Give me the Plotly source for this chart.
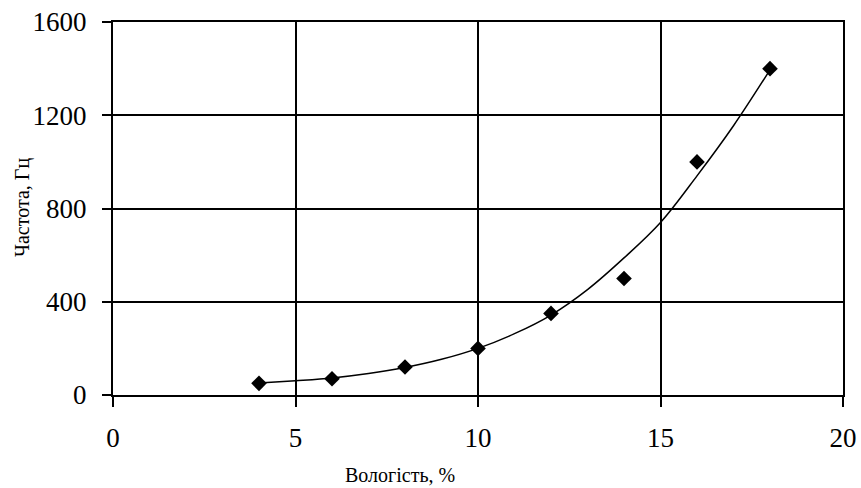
import plotly.graph_objects as go

# Measured data points
moisture = [4, 6, 8, 10, 12, 14, 16, 18]
frequency = [50, 70, 120, 200, 350, 500, 1000, 1400]

# Trend curve
trend_x = [4, 5, 6, 7, 8, 9, 10, 11, 12, 13, 14, 15, 16, 17, 18]
trend_y = [51, 61, 73, 92, 118, 153, 200, 263, 343, 452, 588, 740, 940, 1155, 1395]

x_ticks = [0, 5, 10, 15, 20]
y_ticks = [0, 400, 800, 1200, 1600]

x_title = "Вологість, %"
y_title = "Частота, Гц"

FONT = "Liberation Serif"

fig = go.Figure()
fig.add_trace(go.Scatter(
    x=trend_x, y=trend_y, mode="lines",
    line=dict(color="black", width=1.5, shape="spline", smoothing=1.0),
    hoverinfo="skip", showlegend=False,
))
fig.add_trace(go.Scatter(
    x=moisture, y=frequency, mode="markers",
    marker=dict(symbol="diamond", size=12, color="black"),
    showlegend=False,
))

W, H = 861, 488
L, R, T, B = 113, 18, 22, 93

fig.update_layout(
    width=W, height=H,
    margin=dict(l=L, r=R, t=T, b=B, pad=0, autoexpand=False),
    paper_bgcolor="white", plot_bgcolor="white",
    font=dict(family=FONT, color="black", size=27),
)
fig.update_xaxes(
    range=[0, 20], tickvals=x_ticks, ticktext=[str(v) for v in x_ticks],
    showgrid=True, gridcolor="black", gridwidth=1.5,
    showline=True, linecolor="black", linewidth=2, mirror=True,
    ticks="outside", ticklen=10, tickwidth=2, tickcolor="black",
    ticklabelstandoff=8, automargin=False,
    zeroline=False, tickfont=dict(family=FONT, size=27, color="black"),
)
fig.update_yaxes(
    range=[0, 1600], tickvals=y_ticks, ticktext=[str(v) for v in y_ticks],
    showgrid=True, gridcolor="black", gridwidth=1.5,
    showline=True, linecolor="black", linewidth=2, mirror=True,
    ticks="outside", ticklen=9, tickwidth=2, tickcolor="black",
    ticklabelstandoff=10, automargin=False,
    zeroline=False, tickfont=dict(family=FONT, size=27, color="black"),
)

pw = W - L - R
ph = H - T - B
fig.add_annotation(
    text=x_title, xref="paper", yref="paper",
    x=(400 - L) / pw, y=-(475 - (H - B)) / ph,
    xanchor="center", yanchor="middle", showarrow=False,
    font=dict(family=FONT, size=20, color="black"),
)
fig.add_annotation(
    text=y_title, xref="paper", yref="paper",
    x=-(L - 22) / pw, y=((H - B) - 208) / ph,
    xanchor="center", yanchor="middle", showarrow=False, textangle=-90,
    font=dict(family=FONT, size=20, color="black"),
)

fig.write_html(
    "out.html",
    config={"displayModeBar": False},
    post_script="document.body.style.margin='0';document.body.style.padding='0';document.body.style.overflow='hidden';",
)
